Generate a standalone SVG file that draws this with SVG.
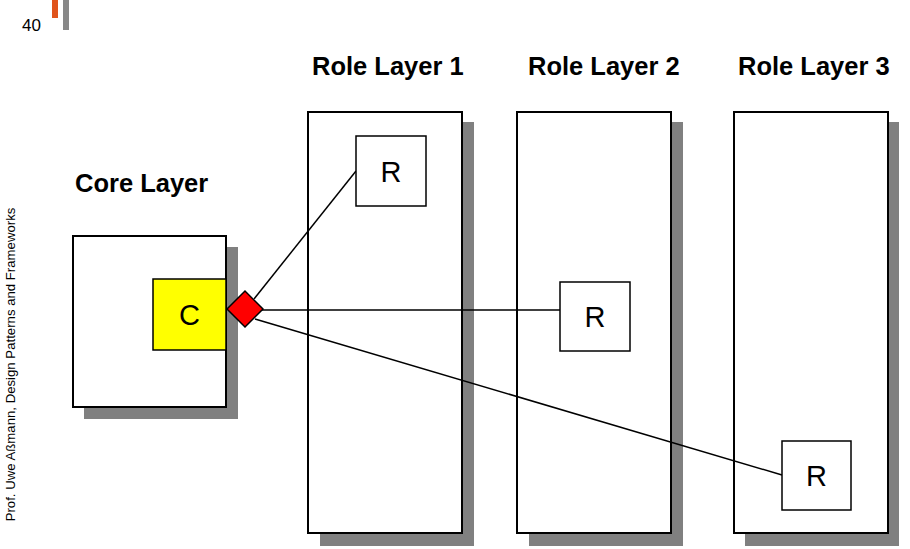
<svg xmlns="http://www.w3.org/2000/svg" width="910" height="549" viewBox="0 0 910 549">
<style>
.shadow{fill:#808080;stroke:none}
.layer{fill:#fff;stroke:#000;stroke-width:2}
.role{fill:#fff;stroke:#000;stroke-width:1.5}
.lbl{font-family:"Liberation Sans",Arial,sans-serif;font-size:29px;fill:#000;text-anchor:middle}
.title{font-family:"Liberation Sans",Arial,sans-serif;font-size:25.5px;font-weight:bold;fill:#000}
.conn{stroke:#000;stroke-width:1.5;fill:none}
</style>
<rect width="910" height="549" fill="#fff"/>
<g id="header">
<rect x="52" y="0" width="6" height="18" fill="#E0541C"/>
<rect x="63" y="0" width="6" height="30" fill="#888"/>
<text x="22" y="31" font-family="'Liberation Sans',Arial,sans-serif" font-size="17" fill="#000">40</text>
</g>
<text transform="translate(15,364.5) rotate(-90)" text-anchor="middle" font-family="'Liberation Sans',Arial,sans-serif" font-size="13.2" fill="#000">Prof. Uwe Aßmann, Design Patterns and Frameworks</text>
<g id="titles">
<text class="title" x="75" y="192">Core Layer</text>
<text class="title" x="312" y="75">Role Layer 1</text>
<text class="title" x="528" y="75">Role Layer 2</text>
<text class="title" x="738" y="75">Role Layer 3</text>
</g>
<g id="core-layer">
<rect class="shadow" x="84" y="247" width="154" height="172"/>
<rect class="layer" x="73" y="236" width="153" height="171"/>
</g>
<g id="role-layer-1">
<rect class="shadow" x="320" y="122" width="154" height="424"/>
<rect class="layer" x="308" y="112" width="154" height="421"/>
</g>
<g id="role-layer-2">
<rect class="shadow" x="529" y="122" width="154" height="424"/>
<rect class="layer" x="517" y="112" width="154" height="421"/>
</g>
<g id="role-layer-3">
<rect class="shadow" x="745" y="122" width="154" height="424"/>
<rect class="layer" x="734" y="112" width="154" height="421"/>
</g>
<g id="connectors">
<line class="conn" x1="254" y1="299" x2="356" y2="171"/>
<line class="conn" x1="262" y1="310" x2="560" y2="310"/>
<line class="conn" x1="255" y1="319" x2="782" y2="475"/>
</g>
<g id="core-C">
<rect x="153" y="279" width="73" height="71" fill="#FFFF00" stroke="#000" stroke-width="1.5"/>
<text class="lbl" x="189.5" y="325">C</text>
</g>
<g id="diamond">
<polygon points="227,309 245,291 263,309 245,327" fill="#FF0000" stroke="#000" stroke-width="1.5"/>
</g>
<g id="role-R1">
<rect class="role" x="356" y="136" width="70" height="70"/>
<text class="lbl" x="391" y="181.5">R</text>
</g>
<g id="role-R2">
<rect class="role" x="560" y="282" width="70" height="69"/>
<text class="lbl" x="595" y="327">R</text>
</g>
<g id="role-R3">
<rect class="role" x="782" y="441" width="69" height="69"/>
<text class="lbl" x="816.5" y="486">R</text>
</g>
</svg>
